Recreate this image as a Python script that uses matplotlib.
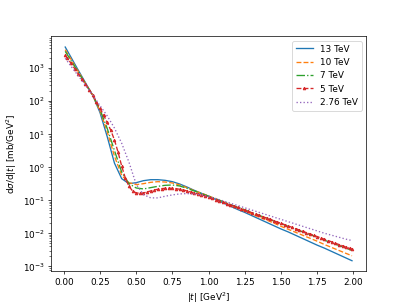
import numpy as np
import matplotlib.pyplot as plt

# |t| grid (GeV^2) for the smooth curves
t = [0.01, 0.05, 0.10, 0.15, 0.20, 0.25, 0.30, 0.35, 0.40, 0.45,
     0.50, 0.55, 0.60, 0.65, 0.70, 0.75, 0.80, 0.85, 0.90, 0.95,
     1.00, 1.05, 1.10, 1.15, 1.20, 1.25, 1.30, 1.35, 1.40, 1.45,
     1.50, 1.55, 1.60, 1.65, 1.70, 1.75, 1.80, 1.85, 1.90, 1.95, 1.99]

# log10 of dsigma/d|t|
log_13 = [3.63, 3.32, 2.93, 2.55, 2.17, 1.65, 0.92, 0.12, -0.35, -0.50,
          -0.47, -0.41, -0.38, -0.38, -0.40, -0.44, -0.51, -0.60, -0.70, -0.79,
          -0.88, -0.98, -1.08, -1.18, -1.28, -1.37, -1.47, -1.57, -1.67, -1.77,
          -1.87, -1.96, -2.06, -2.16, -2.26, -2.36, -2.45, -2.55, -2.65, -2.75, -2.83]
log_10 = [3.55, 3.26, 2.89, 2.53, 2.17, 1.70, 1.07, 0.33, -0.25, -0.47,
          -0.53, -0.50, -0.46, -0.44, -0.45, -0.48, -0.54, -0.62, -0.71, -0.79,
          -0.87, -0.96, -1.05, -1.14, -1.24, -1.33, -1.42, -1.51, -1.60, -1.69,
          -1.79, -1.88, -1.97, -2.06, -2.15, -2.24, -2.34, -2.43, -2.52, -2.61, -2.68]
log_7 = [3.50, 3.22, 2.87, 2.52, 2.17, 1.74, 1.17, 0.50, -0.15, -0.50,
         -0.63, -0.66, -0.62, -0.58, -0.55, -0.54, -0.57, -0.64, -0.72, -0.80,
         -0.88, -0.96, -1.04, -1.13, -1.21, -1.29, -1.38, -1.46, -1.54, -1.63,
         -1.71, -1.79, -1.87, -1.96, -2.04, -2.12, -2.21, -2.29, -2.37, -2.45, -2.52]
log_276 = [3.29, 3.05, 2.76, 2.47, 2.18, 1.86, 1.55, 1.18, 0.72, 0.15,
           -0.52, -0.83, -0.93, -0.93, -0.88, -0.84, -0.81, -0.80, -0.81, -0.84,
           -0.89, -0.95, -1.02, -1.09, -1.16, -1.23, -1.30, -1.37, -1.44, -1.51,
           -1.58, -1.65, -1.72, -1.79, -1.86, -1.93, -2.00, -2.06, -2.12, -2.18, -2.22]

# 5 TeV is drawn with markers on a finer grid
t5 = [0.01, 0.025, 0.05, 0.075, 0.10, 0.125, 0.15, 0.175, 0.20, 0.225,
      0.25, 0.275, 0.30, 0.325, 0.35, 0.375, 0.40, 0.425, 0.45, 0.475,
      0.50, 0.525, 0.55, 0.575, 0.60, 0.625, 0.65, 0.675, 0.70, 0.725,
      0.75, 0.775, 0.80, 0.825, 0.85, 0.875, 0.90, 0.925, 0.95, 0.975,
      1.00, 1.025, 1.05, 1.075, 1.10, 1.125, 1.15, 1.175, 1.20, 1.225,
      1.25, 1.275, 1.30, 1.325, 1.35, 1.375, 1.40, 1.425, 1.45, 1.475,
      1.50, 1.525, 1.55, 1.575, 1.60, 1.625, 1.65, 1.675, 1.70, 1.725,
      1.75, 1.775, 1.80, 1.825, 1.85, 1.875, 1.90, 1.925, 1.95, 1.975, 1.99]
log_5 = [3.38, 3.29, 3.14, 2.98, 2.82, 2.66, 2.50, 2.34, 2.17, 1.98,
         1.78, 1.57, 1.35, 1.11, 0.82, 0.45, 0.03, -0.33, -0.58, -0.72,
         -0.78, -0.79, -0.78, -0.75, -0.72, -0.69, -0.67, -0.65, -0.64, -0.64,
         -0.64, -0.65, -0.67, -0.69, -0.72, -0.75, -0.78, -0.81, -0.84, -0.87,
         -0.90, -0.94, -0.98, -1.02, -1.06, -1.10, -1.14, -1.18, -1.22, -1.26,
         -1.30, -1.34, -1.38, -1.42, -1.46, -1.50, -1.54, -1.58, -1.62, -1.66,
         -1.70, -1.74, -1.78, -1.82, -1.86, -1.90, -1.94, -1.98, -2.02, -2.06,
         -2.10, -2.14, -2.18, -2.22, -2.26, -2.30, -2.34, -2.38, -2.42, -2.46, -2.48]

fig = plt.figure(figsize=(6.4, 4.8), dpi=63.6)

plt.plot(t, 10**np.array(log_13), '-', label='13 TeV')
plt.plot(t, 10**np.array(log_10), '--', label='10 TeV')
plt.plot(t, 10**np.array(log_7), '-.', label='7 TeV')
plt.plot(t5, 10**np.array(log_5), '--^', markersize=3, label='5 TeV')
plt.plot(t, 10**np.array(log_276), ':', label='2.76 TeV')

plt.yscale('log')
plt.legend()
plt.xlabel(r"$|t|$ [GeV$^2$]")
plt.ylabel(r"d$\sigma$/d$|t|$ [mb/GeV$^2$]")
plt.savefig('out.png', dpi=63.6)
